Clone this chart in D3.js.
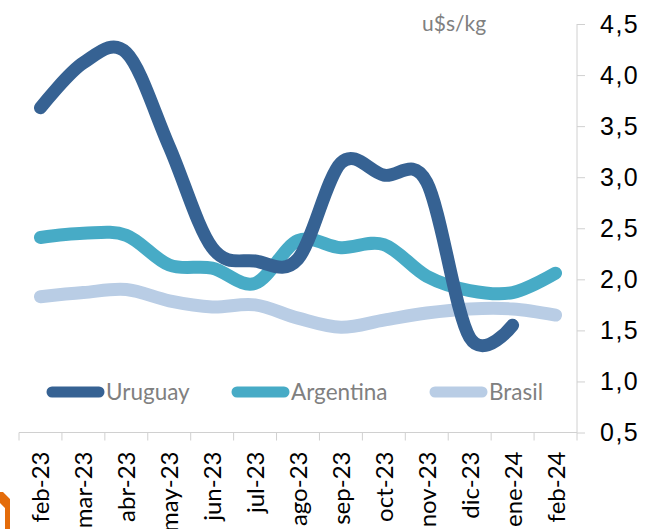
<!DOCTYPE html>
<html>
<head>
<meta charset="utf-8">
<script src="https://cdn.jsdelivr.net/npm/d3@7"></script>
<style>
  body { margin: 0; background: #fff; }
  svg { display: block; font-family: Lato, "Open Sans", sans-serif; }
</style>
</head>
<body>
<svg id="chart" width="653" height="529"></svg>
<script>
const months = ['feb-23', 'mar-23', 'abr-23', 'may-23', 'jun-23', 'jul-23', 'ago-23',
  'sep-23', 'oct-23', 'nov-23', 'dic-23', 'ene-24', 'feb-24'];
const uruguay = [3.68, 4.12, 4.22, 3.3, 2.31, 2.18, 2.2, 3.14, 3.02, 2.95, 1.43, 1.55, null];
const argentina = [2.41, 2.45, 2.43, 2.14, 2.11, 1.96, 2.38, 2.31, 2.34, 2.03, 1.89, 1.87, 2.06];
const brasil = [1.83, 1.87, 1.9, 1.79, 1.73, 1.75, 1.62, 1.53, 1.6, 1.67, 1.71, 1.71, 1.65];
const yTicks = [0.5, 1.0, 1.5, 2.0, 2.5, 3.0, 3.5, 4.0, 4.5];

const series = [
  { name: 'Uruguay', values: uruguay, color: '#366293', lx: 52 },
  { name: 'Argentina', values: argentina, color: '#47abc6', lx: 237 },
  { name: 'Brasil', values: brasil, color: '#b9cde5', lx: 435 }
];

const svg = d3.select('#chart');
const x = d3.scaleBand().domain(months).range([19, 577]);
const y = d3.scaleLinear().domain([0.5, 4.5]).range([432.5, 24]);
const axisColor = '#d0d0d0';

// y axis on the right
const yAxis = svg.append('g').attr('transform', 'translate(577,0)')
  .call(d3.axisRight(y).tickValues(yTicks).tickSize(8).tickPadding(15)
    .tickFormat(d => d3.format('.1f')(d).replace('.', ',')));
yAxis.select('.domain').attr('stroke', axisColor).attr('d', `M0,${y(4.5)}V${y(0.5)}`);
yAxis.selectAll('.tick line').attr('stroke', axisColor);
yAxis.selectAll('.tick text').attr('font-size', 25).attr('letter-spacing', 1.5).attr('fill', '#000');

// x axis: ticks between categories
const xAxis = svg.append('g').attr('transform', `translate(0,${y(0.5)})`);
xAxis.append('path').attr('stroke', axisColor).attr('fill', 'none')
  .attr('d', `M${x.range()[0]},0H${x.range()[1]}`);
xAxis.selectAll('.xtick').data(months.map(m => x(m)).concat([x.range()[1]]))
  .enter().append('line')
  .attr('class', 'xtick')
  .attr('x1', d => d).attr('x2', d => d)
  .attr('y1', 0).attr('y2', 8)
  .attr('stroke', axisColor);
xAxis.selectAll('.xlabel').data(months).enter().append('text')
  .attr('class', 'xlabel')
  .attr('transform', d => `translate(${x(d) + x.bandwidth() / 2 + 9},19) rotate(-90)`)
  .attr('text-anchor', 'end')
  .attr('font-size', 24)
  .attr('fill', '#000')
  .text(d => d);

// lines
const line = d3.line()
  .defined(d => d != null)
  .x((d, i) => x(months[i]) + x.bandwidth() / 2)
  .y(d => y(d))
  .curve(d3.curveCatmullRom.alpha(0));

series.slice().reverse().forEach(s => {
  svg.append('path')
    .datum(s.values)
    .attr('d', line)
    .attr('fill', 'none')
    .attr('stroke', s.color)
    .attr('stroke-width', 13)
    .attr('stroke-linecap', 'round')
    .attr('stroke-linejoin', 'round');
});

// legend
const legend = svg.append('g').attr('transform', 'translate(0,392)');
series.forEach(s => {
  legend.append('line')
    .attr('x1', s.lx).attr('x2', s.lx + 47)
    .attr('y1', 0).attr('y2', 0)
    .attr('stroke', s.color)
    .attr('stroke-width', 11)
    .attr('stroke-linecap', 'round');
  legend.append('text')
    .attr('x', s.lx + 54).attr('y', 8)
    .attr('font-size', 22.5)
    .attr('fill', '#808080')
    .text(s.name);
});

// unit label
svg.append('text')
  .attr('x', 422).attr('y', 31)
  .attr('font-size', 21)
  .attr('fill', '#808080')
  .text('u$s/kg');

// corner of the orange logo cut off at the bottom left
svg.append('path')
  .attr('d', 'M0,492L3,492L10,499L10,529L5,529L5,508L0,503Z')
  .attr('fill', '#e46c0a');
</script>
</body>
</html>
